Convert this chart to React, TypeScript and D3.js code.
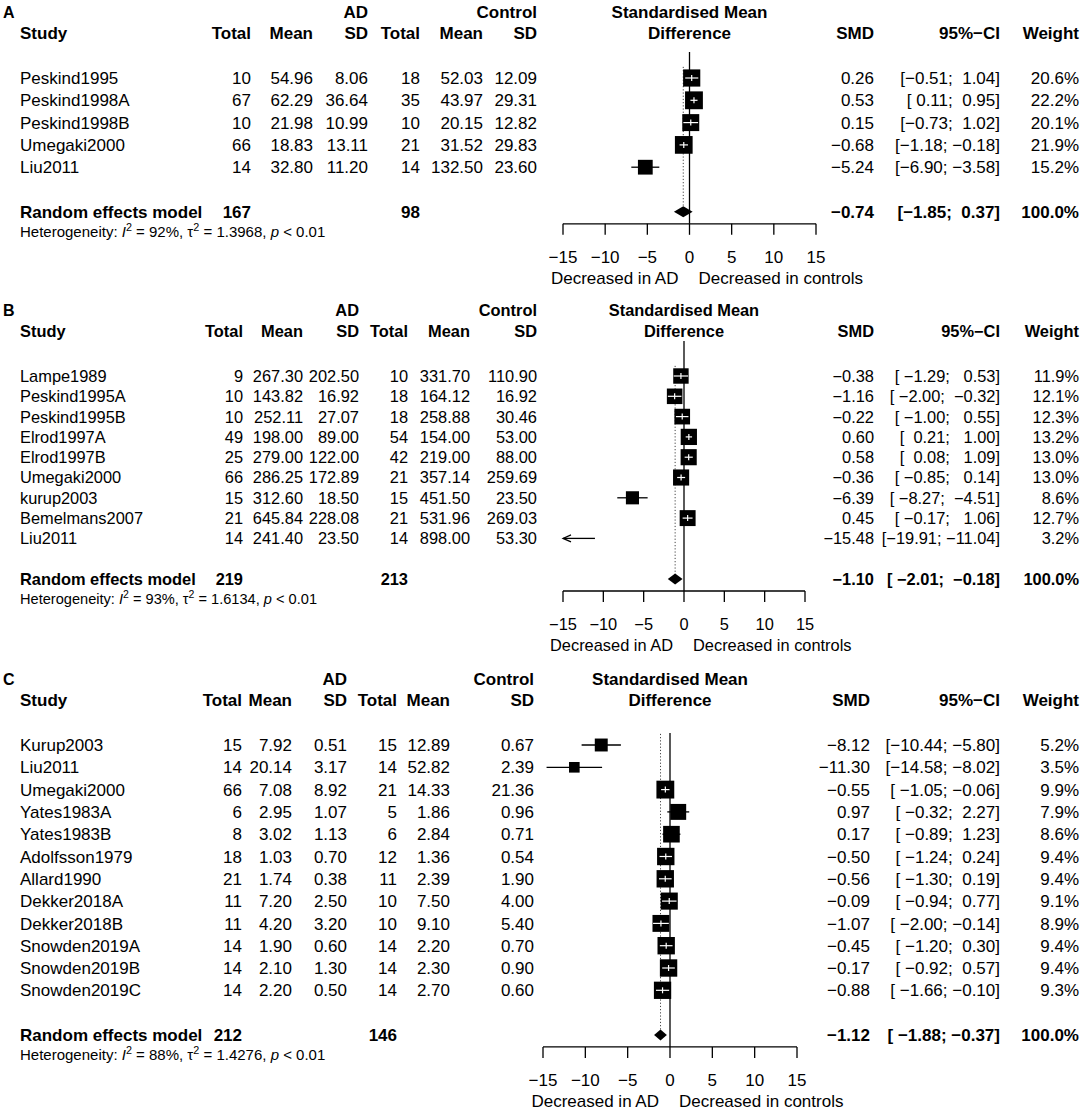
import React from 'react'
import * as d3 from 'd3'

// ---------- Panel A ----------
const studiesA = ['Peskind1995', 'Peskind1998A', 'Peskind1998B', 'Umegaki2000', 'Liu2011']
const adTotalA = [10, 67, 10, 66, 14]
const adMeanA = [54.96, 62.29, 21.98, 18.83, 32.80]
const adSdA = [8.06, 36.64, 10.99, 13.11, 11.20]
const ctTotalA = [18, 35, 10, 21, 14]
const ctMeanA = [52.03, 43.97, 20.15, 31.52, 132.50]
const ctSdA = [12.09, 29.31, 12.82, 29.83, 23.60]
const smdA = [0.26, 0.53, 0.15, -0.68, -5.24]
const lowerA = [-0.51, 0.11, -0.73, -1.18, -6.90]
const upperA = [1.04, 0.95, 1.02, -0.18, -3.58]
const weightA = [20.6, 22.2, 20.1, 21.9, 15.2]
const summaryA = { adTotal: 167, ctTotal: 98, smd: -0.74, lower: -1.85, upper: 0.37, i2: 92, tau2: '1.3968' }

// ---------- Panel B ----------
const studiesB = ['Lampe1989', 'Peskind1995A', 'Peskind1995B', 'Elrod1997A', 'Elrod1997B', 'Umegaki2000', 'kurup2003', 'Bemelmans2007', 'Liu2011']
const adTotalB = [9, 10, 10, 49, 25, 66, 15, 21, 14]
const adMeanB = [267.30, 143.82, 252.11, 198.00, 279.00, 286.25, 312.60, 645.84, 241.40]
const adSdB = [202.50, 16.92, 27.07, 89.00, 122.00, 172.89, 18.50, 228.08, 23.50]
const ctTotalB = [10, 18, 18, 54, 42, 21, 15, 21, 14]
const ctMeanB = [331.70, 164.12, 258.88, 154.00, 219.00, 357.14, 451.50, 531.96, 898.00]
const ctSdB = [110.90, 16.92, 30.46, 53.00, 88.00, 259.69, 23.50, 269.03, 53.30]
const smdB = [-0.38, -1.16, -0.22, 0.60, 0.58, -0.36, -6.39, 0.45, -15.48]
const lowerB = [-1.29, -2.00, -1.00, 0.21, 0.08, -0.85, -8.27, -0.17, -19.91]
const upperB = [0.53, -0.32, 0.55, 1.00, 1.09, 0.14, -4.51, 1.06, -11.04]
const weightB = [11.9, 12.1, 12.3, 13.2, 13.0, 13.0, 8.6, 12.7, 3.2]
const summaryB = { adTotal: 219, ctTotal: 213, smd: -1.10, lower: -2.01, upper: -0.18, i2: 93, tau2: '1.6134' }

// ---------- Panel C ----------
const studiesC = ['Kurup2003', 'Liu2011', 'Umegaki2000', 'Yates1983A', 'Yates1983B', 'Adolfsson1979', 'Allard1990', 'Dekker2018A', 'Dekker2018B', 'Snowden2019A', 'Snowden2019B', 'Snowden2019C']
const adTotalC = [15, 14, 66, 6, 8, 18, 21, 11, 11, 14, 14, 14]
const adMeanC = [7.92, 20.14, 7.08, 2.95, 3.02, 1.03, 1.74, 7.20, 4.20, 1.90, 2.10, 2.20]
const adSdC = [0.51, 3.17, 8.92, 1.07, 1.13, 0.70, 0.38, 2.50, 3.20, 0.60, 1.30, 0.50]
const ctTotalC = [15, 14, 21, 5, 6, 12, 11, 10, 10, 14, 14, 14]
const ctMeanC = [12.89, 52.82, 14.33, 1.86, 2.84, 1.36, 2.39, 7.50, 9.10, 2.20, 2.30, 2.70]
const ctSdC = [0.67, 2.39, 21.36, 0.96, 0.71, 0.54, 1.90, 4.00, 5.40, 0.70, 0.90, 0.60]
const smdC = [-8.12, -11.30, -0.55, 0.97, 0.17, -0.50, -0.56, -0.09, -1.07, -0.45, -0.17, -0.88]
const lowerC = [-10.44, -14.58, -1.05, -0.32, -0.89, -1.24, -1.30, -0.94, -2.00, -1.20, -0.92, -1.66]
const upperC = [-5.80, -8.02, -0.06, 2.27, 1.23, 0.24, 0.19, 0.77, -0.14, 0.30, 0.57, -0.10]
const weightC = [5.2, 3.5, 9.9, 7.9, 8.6, 9.4, 9.4, 9.1, 8.9, 9.4, 9.4, 9.3]
const summaryC = { adTotal: 212, ctTotal: 146, smd: -1.12, lower: -1.88, upper: -0.37, i2: 88, tau2: '1.4276' }

const axisTicks = [-15, -10, -5, 0, 5, 10, 15]
const axisDomain: [number, number] = [-15, 15]

// layout of each panel (pixel positions / sizes)
const layoutA = { top: 12, rowH: 22.3, fs: 17, fsHet: 15, refTop: 52, study: 20, adTotal: 251, adMean: 313, adSd: 368, ctTotal: 420, ctMean: 483, ctSd: 537, xMin: 563, xMax: 816, smd: 874, ci: 1000, weight: 1079 }
const layoutB = { top: 310, rowH: 20.3, fs: 16.4, fsHet: 14.6, refTop: 341, study: 20, adTotal: 243, adMean: 303, adSd: 359, ctTotal: 408, ctMean: 470, ctSd: 537, xMin: 563, xMax: 805, smd: 874, ci: 1000, weight: 1079 }
const layoutC = { top: 679, rowH: 22.3, fs: 17, fsHet: 15, refTop: 733, study: 20, adTotal: 242, adMean: 292, adSd: 347, ctTotal: 397, ctMean: 450, ctSd: 534, xMin: 543, xMax: 797, smd: 870, ci: 1000, weight: 1079 }

const W = 1084
const H = 1112
const FONT = '"Liberation Sans", Arial, Helvetica, sans-serif'

const minus = (s: string) => s.replace(/-/g, '\u2212')

function fmtCI(lo: number[], up: number[]) {
  const l = lo.map(v => v.toFixed(2))
  const u = up.map(v => v.toFixed(2))
  const wl = d3.max(l, s => s.length)!
  const wu = d3.max(u, s => s.length)!
  return l.map((s, i) => minus(`[${s.padStart(wl)}; ${u[i].padStart(wu)}]`))
}

const panels = [
  { letter: 'A', studies: studiesA, adTotal: adTotalA, adMean: adMeanA, adSd: adSdA, ctTotal: ctTotalA, ctMean: ctMeanA, ctSd: ctSdA, smd: smdA, lower: lowerA, upper: upperA, weight: weightA, summary: summaryA, layout: layoutA },
  { letter: 'B', studies: studiesB, adTotal: adTotalB, adMean: adMeanB, adSd: adSdB, ctTotal: ctTotalB, ctMean: ctMeanB, ctSd: ctSdB, smd: smdB, lower: lowerB, upper: upperB, weight: weightB, summary: summaryB, layout: layoutB },
  { letter: 'C', studies: studiesC, adTotal: adTotalC, adMean: adMeanC, adSd: adSdC, ctTotal: ctTotalC, ctMean: ctMeanC, ctSd: ctSdC, smd: smdC, lower: lowerC, upper: upperC, weight: weightC, summary: summaryC, layout: layoutC },
]

type PanelT = typeof panels[number]

function drawPanel(g: d3.Selection<SVGGElement, unknown, null, undefined>, p: PanelT) {
  const L = p.layout
  const FS = L.fs
  const n = p.studies.length
  const header2 = L.top + 21
  const row0 = header2 + 45
  const y = d3.scaleLinear().domain([0, 1]).range([row0, row0 + L.rowH])
  const ySum = y(n + 1)
  const yAxis = ySum + 12
  const x = d3.scaleLinear().domain(axisDomain).range([L.xMin, L.xMax])

  const txt = (tx: number, ty: number, s: string, anchor = 'start', bold = false, size = FS) =>
    g.append('text')
      .attr('x', tx).attr('y', ty).attr('dy', '0.36em')
      .attr('text-anchor', anchor)
      .attr('font-weight', bold ? 'bold' : 'normal')
      .attr('font-size', size)
      .style('white-space', 'pre')
      .text(s)

  // headers
  txt(3, L.top, p.letter, 'start', true, 16)
  txt(L.adSd, L.top, 'AD', 'end', true)
  txt(L.ctSd, L.top, 'Control', 'end', true)
  txt(x(0), L.top, 'Standardised Mean', 'middle', true)
  txt(L.study, header2, 'Study', 'start', true)
  txt(L.adTotal, header2, 'Total', 'end', true)
  txt(L.adMean, header2, 'Mean', 'end', true)
  txt(L.adSd, header2, 'SD', 'end', true)
  txt(L.ctTotal, header2, 'Total', 'end', true)
  txt(L.ctMean, header2, 'Mean', 'end', true)
  txt(L.ctSd, header2, 'SD', 'end', true)
  txt(x(0), header2, 'Difference', 'middle', true)
  txt(L.smd, header2, 'SMD', 'end', true)
  txt(L.ci, header2, '95%\u2212CI', 'end', true)
  txt(L.weight, header2, 'Weight', 'end', true)

  const ci = fmtCI([...p.lower, p.summary.lower], [...p.upper, p.summary.upper])
  const smdTxt = [...p.smd, p.summary.smd].map(v => minus(v.toFixed(2)))

  // study rows (text)
  p.studies.forEach((s, i) => {
    const yy = y(i)
    txt(L.study, yy, s)
    txt(L.adTotal, yy, String(p.adTotal[i]), 'end')
    txt(L.adMean, yy, p.adMean[i].toFixed(2), 'end')
    txt(L.adSd, yy, p.adSd[i].toFixed(2), 'end')
    txt(L.ctTotal, yy, String(p.ctTotal[i]), 'end')
    txt(L.ctMean, yy, p.ctMean[i].toFixed(2), 'end')
    txt(L.ctSd, yy, p.ctSd[i].toFixed(2), 'end')
    txt(L.smd, yy, smdTxt[i], 'end')
    txt(L.ci, yy, ci[i], 'end')
    txt(L.weight, yy, p.weight[i].toFixed(1) + '%', 'end')
  })

  // summary row
  txt(L.study, ySum, 'Random effects model', 'start', true)
  txt(L.adTotal, ySum, String(p.summary.adTotal), 'end', true)
  txt(L.ctTotal, ySum, String(p.summary.ctTotal), 'end', true)
  txt(L.smd, ySum, smdTxt[n], 'end', true)
  txt(L.ci, ySum, ci[n], 'end', true)
  txt(L.weight, ySum, '100.0%', 'end', true)

  // heterogeneity line
  const fh = L.fsHet
  const het = g.append('text').attr('x', L.study).attr('y', ySum + 20).attr('dy', '0.36em').attr('font-size', fh)
  het.append('tspan').text('Heterogeneity: ')
  het.append('tspan').attr('font-style', 'italic').text('I')
  het.append('tspan').attr('font-size', fh * 0.72).attr('dy', -fh * 0.4).text('2')
  het.append('tspan').attr('dy', fh * 0.4).text(` = ${p.summary.i2}%, \u03c4`)
  het.append('tspan').attr('font-size', fh * 0.72).attr('dy', -fh * 0.4).text('2')
  het.append('tspan').attr('dy', fh * 0.4).text(` = ${p.summary.tau2}, `)
  het.append('tspan').attr('font-style', 'italic').text('p')
  het.append('tspan').text(' < 0.01')

  // reference line at 0
  g.append('line')
    .attr('x1', x(0)).attr('x2', x(0))
    .attr('y1', L.refTop).attr('y2', yAxis)
    .attr('stroke', '#000').attr('stroke-width', 1.3)

  // dotted line at pooled estimate
  g.append('line')
    .attr('x1', x(p.summary.smd)).attr('x2', x(p.summary.smd))
    .attr('y1', row0 - L.rowH / 2).attr('y2', ySum)
    .attr('stroke', '#444').attr('stroke-width', 1).attr('stroke-dasharray', '1.2,2')

  const maxW = d3.max(p.weight)!
  const maxSide = 0.8 * L.rowH
  p.studies.forEach((_, i) => {
    const yy = y(i)
    const lo = Math.max(p.lower[i], axisDomain[0])
    const hi = Math.min(p.upper[i], axisDomain[1])
    g.append('line').attr('x1', x(lo)).attr('x2', x(hi)).attr('y1', yy).attr('y2', yy)
      .attr('stroke', '#000').attr('stroke-width', 1.3)
    if (p.lower[i] < axisDomain[0]) {
      const ax = x(axisDomain[0])
      g.append('path').attr('d', `M${ax + 8},${yy - 3.5} L${ax},${yy} L${ax + 8},${yy + 3.5}`)
        .attr('fill', 'none').attr('stroke', '#000').attr('stroke-width', 1.2)
    }
    if (p.smd[i] < axisDomain[0] || p.smd[i] > axisDomain[1]) return
    const side = maxSide * Math.sqrt(p.weight[i] / maxW)
    const cx = x(p.smd[i])
    g.append('rect').attr('x', cx - side / 2).attr('y', yy - side / 2)
      .attr('width', side).attr('height', side).attr('fill', '#000')
    if (x(p.upper[i]) - x(p.lower[i]) < side) {
      g.append('line').attr('x1', x(p.lower[i])).attr('x2', x(p.upper[i])).attr('y1', yy).attr('y2', yy)
        .attr('stroke', '#fff').attr('stroke-width', 1.2)
      g.append('line').attr('x1', cx).attr('x2', cx).attr('y1', yy - 3).attr('y2', yy + 3)
        .attr('stroke', '#fff').attr('stroke-width', 1.2)
    }
  })

  // pooled diamond
  const dh = 5.5
  g.append('path')
    .attr('d', `M${x(p.summary.lower)},${ySum} L${x(p.summary.smd)},${ySum - dh} L${x(p.summary.upper)},${ySum} L${x(p.summary.smd)},${ySum + dh} Z`)
    .attr('fill', '#000')

  // x axis
  g.append('line').attr('x1', x(axisDomain[0])).attr('x2', x(axisDomain[1]))
    .attr('y1', yAxis).attr('y2', yAxis).attr('stroke', '#000').attr('stroke-width', 1.3)
  axisTicks.forEach(t => {
    g.append('line').attr('x1', x(t)).attr('x2', x(t)).attr('y1', yAxis).attr('y2', yAxis + 11)
      .attr('stroke', '#000').attr('stroke-width', 1.3)
    txt(x(t), yAxis + 33, minus(String(t)), 'middle')
  })
  txt(x(0) - 11, yAxis + 54, 'Decreased in AD', 'end')
  txt(x(0) + 9, yAxis + 54, 'Decreased in controls', 'start')
}

export default function App() {
  const ref = React.useRef<SVGSVGElement>(null)

  React.useEffect(() => {
    document.body.style.margin = '0'
    const svg = d3.select(ref.current!)
    svg.selectAll('*').remove()
    svg.append('rect').attr('width', W).attr('height', H).attr('fill', '#fff')
    panels.forEach(p => drawPanel(svg.append('g'), p))
  }, [])

  return (
    <svg ref={ref} width={W} height={H} viewBox={`0 0 ${W} ${H}`}
      style={{ display: 'block', fontFamily: FONT, fill: '#000' }} />
  )
}
